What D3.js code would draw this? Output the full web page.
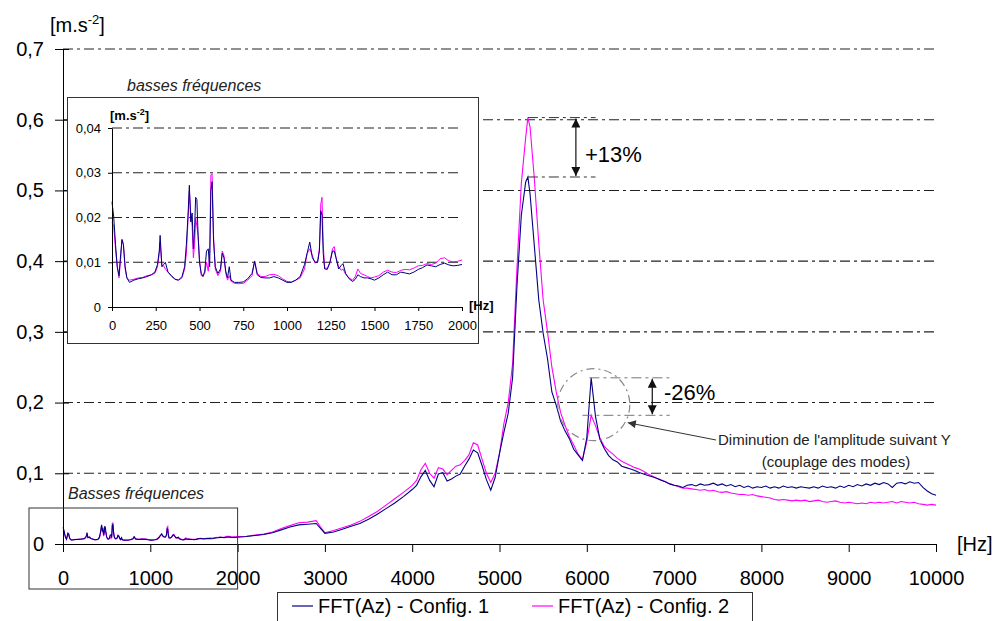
<!DOCTYPE html>
<html>
<head>
<meta charset="utf-8">
<script src="https://cdn.jsdelivr.net/npm/d3@7"></script>
<style>
  body { margin: 0; background: #fff; }
  svg { display: block; font-family: "Liberation Sans", Arial, sans-serif; }
</style>
</head>
<body>
<div id="container"></div>
<script>
/* DATA */
// low frequency part (0 - 2000 Hz), used for the inset and the start of the main curve
const lfFreq = [
  0, 10, 20, 30, 40, 50, 57, 65, 75, 85,
  100, 125, 150, 175, 200, 225, 245, 260, 270, 275,
  285, 295, 305, 320, 340, 360, 380, 400, 415, 425,
  435, 442, 450, 458, 465, 472, 478, 485, 492, 500,
  510, 520, 530, 540, 550, 558, 565, 572, 580, 590,
  605, 620, 630, 640, 650, 660, 670, 680, 700, 725,
  750, 775, 800, 815, 830, 850, 875, 900, 925, 950,
  975, 1000, 1025, 1050, 1075, 1100, 1115, 1130, 1145, 1160,
  1175, 1185, 1193, 1200, 1207, 1215, 1230, 1245, 1260, 1270,
  1280, 1295, 1310, 1320, 1335, 1355, 1375, 1390, 1405, 1420,
  1440, 1460, 1480, 1500, 1525, 1550, 1575, 1600, 1625, 1650,
  1675, 1700, 1725, 1750, 1775, 1800, 1825, 1850, 1875, 1900,
  1925, 1950, 1975, 2000
];
const lfConfig1 = [
  .0235, .020, .014, .009, .007, .012, .015, .014, .009, .0065,
  .0055, .006, .0063, .0065, .0068, .0072, .0078, .0095, .0125, .016,
  .009, .0095, .010, .0078, .007, .0062, .006, .0068, .009, .014,
  .021, .0272, .019, .021, .013, .0175, .0245, .024, .016, .010,
  .0075, .0068, .008, .0125, .013, .009, .026, .028, .015, .009,
  .0075, .0085, .012, .011, .008, .0065, .009, .006, .0055, .0055,
  .0056, .0063, .0075, .0102, .0072, .0066, .0065, .0065, .0068, .0065,
  .006, .0055, .0055, .006, .0068, .0095, .012, .0145, .011, .010,
  .010, .0125, .0215, .0205, .012, .0085, .0084, .010, .0125, .0125,
  .011, .0085, .0093, .0097, .0075, .0063, .0057, .0062, .0072, .0068,
  .0065, .0065, .0063, .006, .0065, .0072, .0078, .0072, .0072, .0078,
  .0076, .0074, .0078, .0084, .0088, .0094, .0092, .0090, .0095, .0098,
  .0094, .0092, .0093, .0095
];
const lfConfig2 = [
  .019, .018, .013, .009, .0065, .011, .0152, .014, .0085, .0065,
  .006, .0062, .0065, .0066, .007, .0072, .0075, .009, .012, .0145,
  .0092, .0092, .0085, .0078, .0068, .0062, .006, .0065, .0085, .012,
  .020, .026, .021, .018, .011, .014, .020, .018, .016, .0105,
  .007, .007, .0075, .010, .008, .012, .0295, .0298, .016, .0085,
  .007, .008, .0125, .0115, .0075, .006, .007, .0058, .0053, .0052,
  .0053, .006, .007, .0103, .0075, .0068, .0068, .0072, .0073, .007,
  .0063, .0057, .0056, .006, .0065, .0085, .012, .013, .0115, .0098,
  .0103, .013, .023, .0245, .014, .0088, .0086, .0098, .013, .0135,
  .011, .009, .0082, .0085, .0073, .0065, .006, .0068, .0085, .0075,
  .0072, .0068, .0065, .0067, .007, .0078, .0082, .0078, .0077, .0082,
  .0084, .0083, .0087, .0092, .0093, .0097, .0095, .0098, .0108, .011,
  .0103, .0101, .0102, .0105
];

// rest of the spectrum (2100 - 10000 Hz)
const hfFreq = [
  2100, 2200, 2300, 2400, 2500, 2600, 2700, 2800, 2900, 2950,
  3000, 3100, 3200, 3300, 3400, 3500, 3600, 3700, 3800, 3900,
  4000, 4050, 4100, 4150, 4200, 4250, 4300, 4350, 4400, 4450,
  4500, 4550, 4600, 4650, 4700, 4750, 4800, 4850, 4900, 4950,
  5000, 5050, 5100, 5150, 5200, 5250, 5300, 5325, 5350, 5400,
  5450, 5500, 5550, 5600, 5650, 5700, 5750, 5800, 5850, 5900,
  5950, 6000, 6050, 6100, 6150, 6200, 6250, 6300, 6350, 6400,
  6450, 6500, 6550, 6600, 6650, 6700, 6750, 6800, 6850, 6900,
  6950, 7000, 7050, 7100, 7150, 7200, 7250, 7300, 7350, 7400,
  7450, 7500, 7550, 7600, 7650, 7700, 7750, 7800, 7850, 7900,
  7950, 8000, 8050, 8100, 8150, 8200, 8250, 8300, 8350, 8400,
  8450, 8500, 8550, 8600, 8650, 8700, 8750, 8800, 8850, 8900,
  8950, 9000, 9050, 9100, 9150, 9200, 9250, 9300, 9350, 9400,
  9450, 9500, 9550, 9600, 9650, 9700, 9750, 9800, 9850, 9900,
  9950, 10000
];
const hfConfig1 = [
  .0105, .012, .0135, .016, .020, .024, .027, .028, .029, .022,
  .015, .017, .021, .025, .029, .035, .042, .050, .058, .067,
  .077, .083, .095, .104, .090, .081, .099, .101, .089, .092,
  .096, .099, .110, .120, .133, .129, .111, .091, .076, .094,
  .128, .158, .185, .235, .365, .465, .512, .519, .495, .420,
  .345, .298, .262, .215, .196, .174, .160, .149, .134, .126,
  .118, .150, .235, .180, .148, .135, .125, .119, .116, .110,
  .108, .106, .104, .101, .099, .097, .095, .093, .090, .088,
  .085, .083, .082, .080, .083, .084, .082, .085, .083, .084,
  .086, .083, .085, .082, .084, .081, .083, .080, .082, .079,
  .081, .080, .082, .079, .081, .079, .082, .080, .081, .079,
  .081, .080, .079, .081, .079, .082, .080, .081, .079, .082,
  .080, .083, .081, .084, .082, .085, .083, .086, .084, .087,
  .085, .080, .086, .087, .085, .088, .086, .087, .080, .075,
  .071, .069
];
const hfConfig2 = [
  .011, .0125, .014, .017, .022, .026, .030, .031, .033, .024,
  .016, .019, .023, .027, .032, .039, .046, .055, .064, .073,
  .083, .090, .105, .114, .100, .093, .108, .106, .098, .104,
  .110, .112, .118, .126, .143, .140, .120, .100, .087, .100,
  .128, .170, .200, .255, .390, .510, .575, .603, .590, .515,
  .425, .345, .300, .250, .215, .186, .168, .152, .140, .127,
  .119, .145, .182, .167, .150, .138, .132, .127, .121, .117,
  .114, .111, .108, .106, .103, .099, .096, .093, .091, .088,
  .085, .083, .081, .079, .079, .078, .077, .076, .077, .075,
  .076, .074, .073, .074, .072, .071, .070, .070, .069, .070,
  .068, .067, .066, .065, .063, .062, .063, .062, .061, .062,
  .061, .062, .060, .061, .062, .060, .059, .060, .061, .059,
  .058, .059, .058, .057, .058, .057, .059, .058, .059, .058,
  .059, .060, .058, .060, .059, .058, .059, .057, .056, .055,
  .056, .055
];

const seriesNames = ["FFT(Az) - Config. 1", "FFT(Az) - Config. 2"];
const seriesColors = ["#000080", "#ff00ff"];
const mainYTicks = [0, 0.1, 0.2, 0.3, 0.4, 0.5, 0.6, 0.7];
const mainXTicks = [0, 1000, 2000, 3000, 4000, 5000, 6000, 7000, 8000, 9000, 10000];
const insetYTicks = [0, 0.01, 0.02, 0.03, 0.04];
const insetXTicks = [0, 250, 500, 750, 1000, 1250, 1500, 1750, 2000];

/* CONSTANTS */
const width = 1000, height = 621;
const dash = "10,4,3,4";
const commaFmt = p => d => d === 0 ? "0" : d3.format("." + p + "f")(d).replace(".", ",");

const svg = d3.select("#container").append("svg")
  .attr("width", width)
  .attr("height", height);

const defs = svg.append("defs");
["arrBlack", "arrGrey"].forEach((id, i) => {
  defs.append("marker")
    .attr("id", id)
    .attr("markerUnits", "userSpaceOnUse")
    .attr("viewBox", "0 0 10 10")
    .attr("refX", 10).attr("refY", 5)
    .attr("markerWidth", i ? 10 : 9).attr("markerHeight", i ? 8 : 9)
    .attr("orient", "auto-start-reverse")
    .append("path")
    .attr("d", "M0,0 L10,5 L0,10 Z")
    .attr("fill", i ? "#333" : "#111");
});

/* MAIN CHART */
const x = d3.scaleLinear().domain([0, 10000]).range([63, 936]);
const y = d3.scaleLinear().domain([0, 0.7]).range([544, 49]);

// grid
svg.append("g").selectAll("line")
  .data(mainYTicks.filter(d => d > 0))
  .join("line")
  .attr("x1", x(0)).attr("x2", x(10000))
  .attr("y1", d => y(d)).attr("y2", d => y(d))
  .attr("stroke", "#222").attr("stroke-width", 1.1)
  .attr("stroke-dasharray", dash);

const mainFreq = lfFreq.concat(hfFreq);
const mainSeries = [lfConfig1.concat(hfConfig1), lfConfig2.concat(hfConfig2)];

const line = d3.line()
  .x(d => x(d[0]))
  .y(d => y(d[1]));

// magenta drawn first, navy on top
[1, 0].forEach(i => {
  svg.append("path")
    .datum(mainFreq.map((f, k) => [f, mainSeries[i][k]]))
    .attr("fill", "none")
    .attr("stroke", seriesColors[i])
    .attr("stroke-width", 1.1)
    .attr("d", line);
});

// axes
const yAxis = svg.append("g")
  .attr("transform", `translate(${x(0)},0)`)
  .call(d3.axisLeft(y).tickValues(mainYTicks).tickSize(8).tickPadding(11)
    .tickSizeOuter(0).tickFormat(commaFmt(1)));
yAxis.selectAll(".tick line").attr("x1", 6);
yAxis.selectAll("text").style("font-size", "20px").attr("fill", "#000");

const xAxis = svg.append("g")
  .attr("transform", `translate(0,${y(0)})`)
  .call(d3.axisBottom(x).tickValues(mainXTicks).tickSize(8).tickPadding(19)
    .tickSizeOuter(0).tickFormat(d => d));
xAxis.selectAll("text").style("font-size", "20px").attr("fill", "#000");

svg.selectAll(".domain, .tick line").attr("stroke", "#000");

const yUnit = svg.append("text")
  .attr("x", 50).attr("y", 32)
  .style("font-size", "20px")
  .text("[m.s");
yUnit.append("tspan").attr("dy", -8).style("font-size", "13px").text("-2");
yUnit.append("tspan").attr("dy", 8).text("]");

svg.append("text")
  .attr("x", 957).attr("y", 551)
  .style("font-size", "20px")
  .text("[Hz]");

/* LOW FREQUENCY FRAME ON MAIN CHART */
svg.append("rect")
  .attr("x", 29).attr("y", 508)
  .attr("width", x(2000) - 29).attr("height", 81)
  .attr("fill", "none").attr("stroke", "#333");
svg.append("text")
  .attr("x", 68).attr("y", 499)
  .style("font-size", "16px").style("font-style", "italic")
  .attr("fill", "#222")
  .text("Basses fréquences");

/* INSET */
svg.append("rect")
  .attr("x", 67.5).attr("y", 97.5)
  .attr("width", 411).attr("height", 246)
  .attr("fill", "#fff").attr("stroke", "#333");
svg.append("text")
  .attr("x", 127).attr("y", 91)
  .style("font-size", "16px").style("font-style", "italic")
  .attr("fill", "#222")
  .text("basses fréquences");

const xi = d3.scaleLinear().domain([0, 2000]).range([112, 462]);
const yi = d3.scaleLinear().domain([0, 0.04]).range([307, 128]);

svg.append("g").selectAll("line")
  .data(insetYTicks.filter(d => d > 0))
  .join("line")
  .attr("x1", xi(0)).attr("x2", 458)
  .attr("y1", d => yi(d)).attr("y2", d => yi(d))
  .attr("stroke", "#222")
  .attr("stroke-dasharray", dash);

const lineI = d3.line()
  .x(d => xi(d[0]))
  .y(d => yi(d[1]));
[lfConfig2, lfConfig1].forEach((vals, j) => {
  svg.append("path")
    .datum(lfFreq.map((f, k) => [f, vals[k]]))
    .attr("fill", "none")
    .attr("stroke", seriesColors[1 - j])
    .attr("stroke-width", 1)
    .attr("d", lineI);
});

const yAxisI = svg.append("g")
  .attr("transform", `translate(${xi(0)},0)`)
  .call(d3.axisLeft(yi).tickValues(insetYTicks).tickSize(4).tickPadding(7)
    .tickSizeOuter(0).tickFormat(commaFmt(2)));
const xAxisI = svg.append("g")
  .attr("transform", `translate(0,${yi(0)})`)
  .call(d3.axisBottom(xi).tickValues(insetXTicks).tickSize(4).tickPadding(10)
    .tickSizeOuter(0).tickFormat(d => d));
[yAxisI, xAxisI].forEach(g => {
  g.selectAll("text").style("font-size", "13px").attr("fill", "#000");
  g.selectAll(".domain, .tick line").attr("stroke", "#000");
});

const yUnitI = svg.append("text")
  .attr("x", 110).attr("y", 120)
  .style("font-size", "13px").style("font-weight", "bold")
  .text("[m.s");
yUnitI.append("tspan").attr("dy", -5).style("font-size", "9px").text("-2");
yUnitI.append("tspan").attr("dy", 5).text("]");
svg.append("text")
  .attr("x", 469).attr("y", 310)
  .style("font-size", "13px").style("font-weight", "bold")
  .text("[Hz]");

/* ANNOTATIONS */
// main resonance : +13%
const peak1 = d3.max(hfConfig1), peak2 = d3.max(hfConfig2);
const peakF = hfFreq[hfConfig2.indexOf(peak2)];
[peak2, peak1].forEach(v => {
  svg.append("line")
    .attr("x1", x(peakF)).attr("x2", x(6100))
    .attr("y1", y(v)).attr("y2", y(v))
    .attr("stroke", "#333").attr("stroke-dasharray", dash);
});
svg.append("line")
  .attr("x1", x(5875)).attr("x2", x(5875))
  .attr("y1", y(peak2) + 1).attr("y2", y(peak1) - 1)
  .attr("stroke", "#111").attr("stroke-width", 1.2)
  .attr("marker-start", "url(#arrBlack)")
  .attr("marker-end", "url(#arrBlack)");
svg.append("text")
  .attr("x", 585).attr("y", 162)
  .style("font-size", "22px")
  .text("+13%");

// secondary peak : -26%
const win = hfFreq.map((f, k) => k).filter(k => hfFreq[k] >= 5950 && hfFreq[k] <= 6200);
const sec1 = d3.max(win, k => hfConfig1[k]), sec2 = d3.max(win, k => hfConfig2[k]);
svg.append("line")
  .attr("x1", x(6030)).attr("x2", x(6950))
  .attr("y1", y(sec1)).attr("y2", y(sec1))
  .attr("stroke", "#777").attr("stroke-dasharray", dash);
svg.append("line")
  .attr("x1", x(5950)).attr("x2", x(6950))
  .attr("y1", y(sec2)).attr("y2", y(sec2))
  .attr("stroke", "#777").attr("stroke-dasharray", dash);
svg.append("line")
  .attr("x1", x(6750)).attr("x2", x(6750))
  .attr("y1", y(sec1) + 1).attr("y2", y(sec2) - 1)
  .attr("stroke", "#111").attr("stroke-width", 1.2)
  .attr("marker-start", "url(#arrBlack)")
  .attr("marker-end", "url(#arrBlack)");
svg.append("text")
  .attr("x", 664).attr("y", 400)
  .style("font-size", "22px")
  .text("-26%");

const cx = x(6080), cy = y(0.197);
svg.append("circle")
  .attr("cx", cx).attr("cy", cy).attr("r", 36)
  .attr("fill", "none").attr("stroke", "#888").attr("stroke-width", 1.2)
  .attr("stroke-dasharray", "8,4,2,4");
svg.append("line")
  .attr("x1", 716).attr("y1", 440)
  .attr("x2", cx + 34).attr("y2", cy + 18)
  .attr("stroke", "#333").attr("stroke-width", 1)
  .attr("marker-end", "url(#arrGrey)");
svg.append("text")
  .attr("x", 718).attr("y", 445)
  .style("font-size", "15px").attr("fill", "#222")
  .text("Diminution de l'amplitude suivant Y");
svg.append("text")
  .attr("x", 836).attr("y", 467)
  .attr("text-anchor", "middle")
  .style("font-size", "15px").attr("fill", "#222")
  .text("(couplage des modes)");

/* LEGEND */
const legend = svg.append("g");
legend.append("rect")
  .attr("x", 277.5).attr("y", 592.5)
  .attr("width", 475).attr("height", 40)
  .attr("fill", "#fff").attr("stroke", "#333");
const items = legend.selectAll("g.item")
  .data(seriesNames)
  .join("g")
  .attr("class", "item")
  .attr("transform", (d, i) => `translate(${i ? 532 : 292},606)`);
items.append("line")
  .attr("x1", 0).attr("x2", 21)
  .attr("stroke", (d, i) => seriesColors[i])
  .attr("stroke-width", 1.2);
items.append("text")
  .attr("x", 26).attr("y", 7)
  .style("font-size", "20px")
  .text(d => d);
</script>
</body>
</html>
